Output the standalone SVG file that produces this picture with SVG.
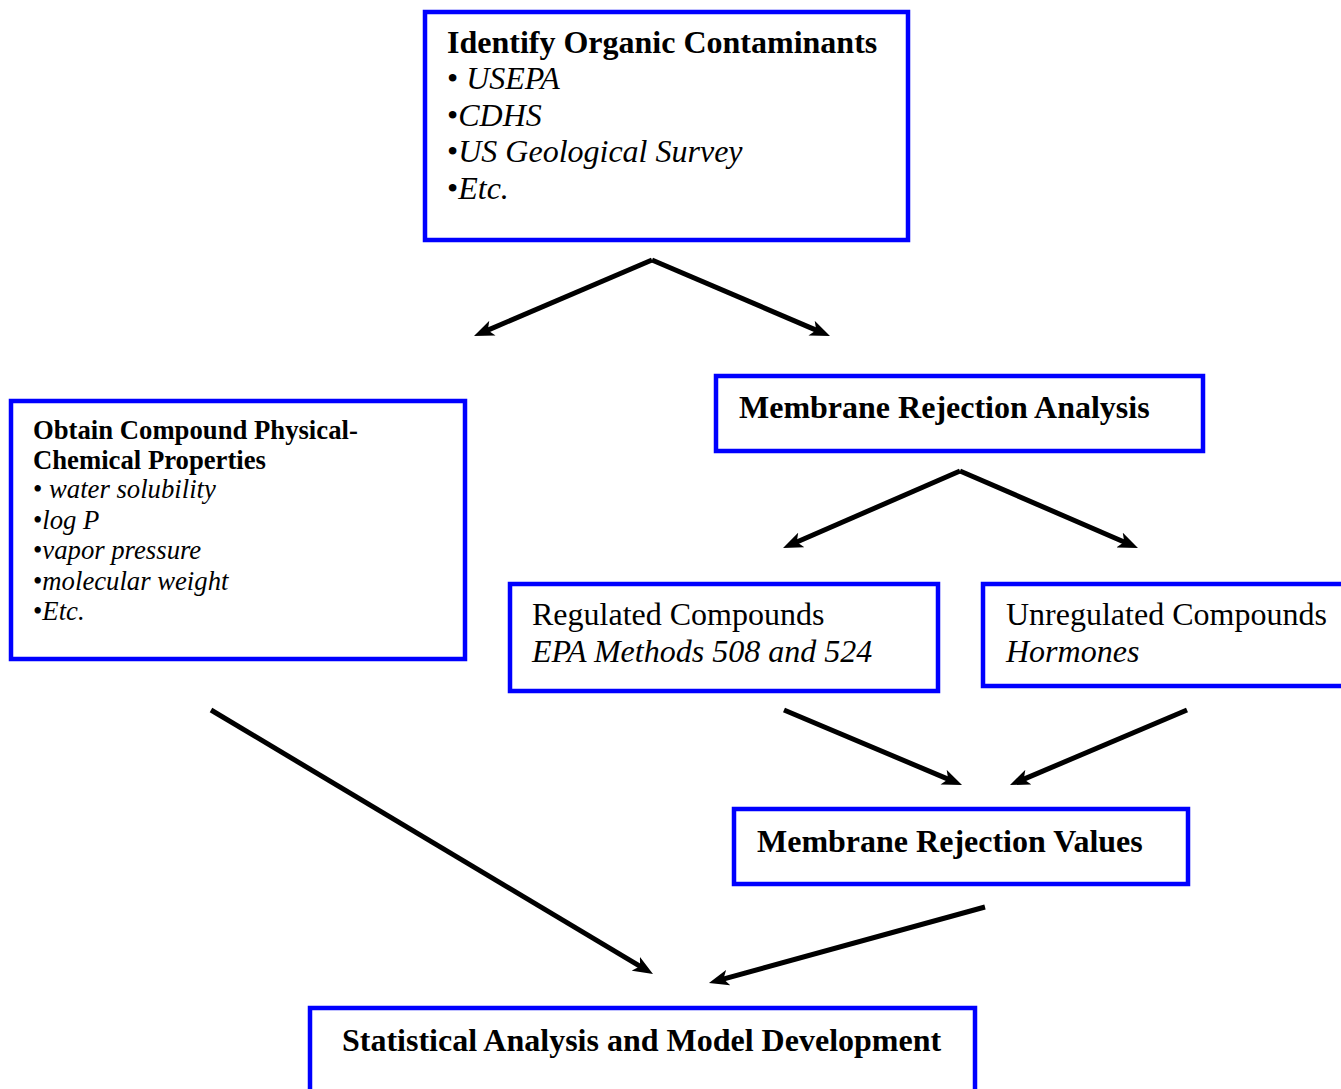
<svg xmlns="http://www.w3.org/2000/svg" width="1341" height="1089" viewBox="0 0 1341 1089">
<style>
.box{fill:#fff;stroke:#0000ff;stroke-width:4.5}
text{font-family:"Liberation Serif","Times New Roman",serif;fill:#000}
.b{font-weight:bold}
.i{font-style:italic}
.big{font-size:32px}
.sm{font-size:26.7px}
.conn line{stroke:#000;stroke-width:5;marker-end:url(#ah)}
</style>
<defs>
<marker id="ah" viewBox="0 0 20 16" refX="10" refY="8" markerUnits="userSpaceOnUse" markerWidth="20" markerHeight="16" orient="auto">
<path d="M0,0 L20,8 L0,16 L5,8 Z" fill="#000"/>
</marker>
</defs>
<rect width="1341" height="1089" fill="#fff"/>
<g id="identify">
<rect class="box" x="425" y="12" width="483" height="228"/>
<text x="447" y="53" class="b big">Identify Organic Contaminants</text>
<text x="447" y="89" class="big">• <tspan class="i">USEPA</tspan></text>
<text x="447" y="126" class="big">•<tspan class="i">CDHS</tspan></text>
<text x="447" y="162" class="big">•<tspan class="i">US Geological Survey</tspan></text>
<text x="447" y="199" class="big">•<tspan class="i">Etc.</tspan></text>
</g>
<g id="properties">
<rect class="box" x="11" y="401" width="454" height="258"/>
<text x="33" y="439" class="b sm">Obtain Compound Physical-</text>
<text x="33" y="469" class="b sm">Chemical Properties</text>
<text x="33" y="498" class="sm">• <tspan class="i">water solubility</tspan></text>
<text x="33" y="529" class="sm">•<tspan class="i">log P</tspan></text>
<text x="33" y="559" class="sm">•<tspan class="i">vapor pressure</tspan></text>
<text x="33" y="590" class="sm">•<tspan class="i">molecular weight</tspan></text>
<text x="33" y="620" class="sm">•<tspan class="i">Etc.</tspan></text>
</g>
<g id="analysis">
<rect class="box" x="716" y="376" width="487" height="75"/>
<text x="739" y="418" class="b big">Membrane Rejection Analysis</text>
</g>
<g id="regulated">
<rect class="box" x="510" y="584" width="428" height="107"/>
<text x="532" y="625" class="big">Regulated Compounds</text>
<text x="532" y="662" class="i big">EPA Methods 508 and 524</text>
</g>
<g id="unregulated">
<rect class="box" x="983" y="584" width="362" height="102"/>
<text x="1006" y="625" class="big">Unregulated Compounds</text>
<text x="1006" y="662" class="i big">Hormones</text>
</g>
<g id="values">
<rect class="box" x="734" y="809" width="454" height="75"/>
<text x="757" y="852" class="b big">Membrane Rejection Values</text>
</g>
<g id="statistical">
<rect class="box" x="310" y="1008" width="665" height="100"/>
<text x="342" y="1051" class="b big">Statistical Analysis and Model Development</text>
</g>
<g id="connectors" class="conn">
<line x1="652" y1="260" x2="483.2" y2="332.1"/>
<line x1="652" y1="260" x2="820.8" y2="332.1"/>
<line x1="960" y1="471" x2="792.2" y2="544"/>
<line x1="960" y1="471" x2="1128.8" y2="544"/>
<line x1="784" y1="710" x2="952.8" y2="781.1"/>
<line x1="1187" y1="710" x2="1019.2" y2="781.1"/>
<line x1="211" y1="710" x2="644.4" y2="968.9"/>
<line x1="985" y1="907" x2="718.6" y2="980.3"/>
</g>
</svg>
